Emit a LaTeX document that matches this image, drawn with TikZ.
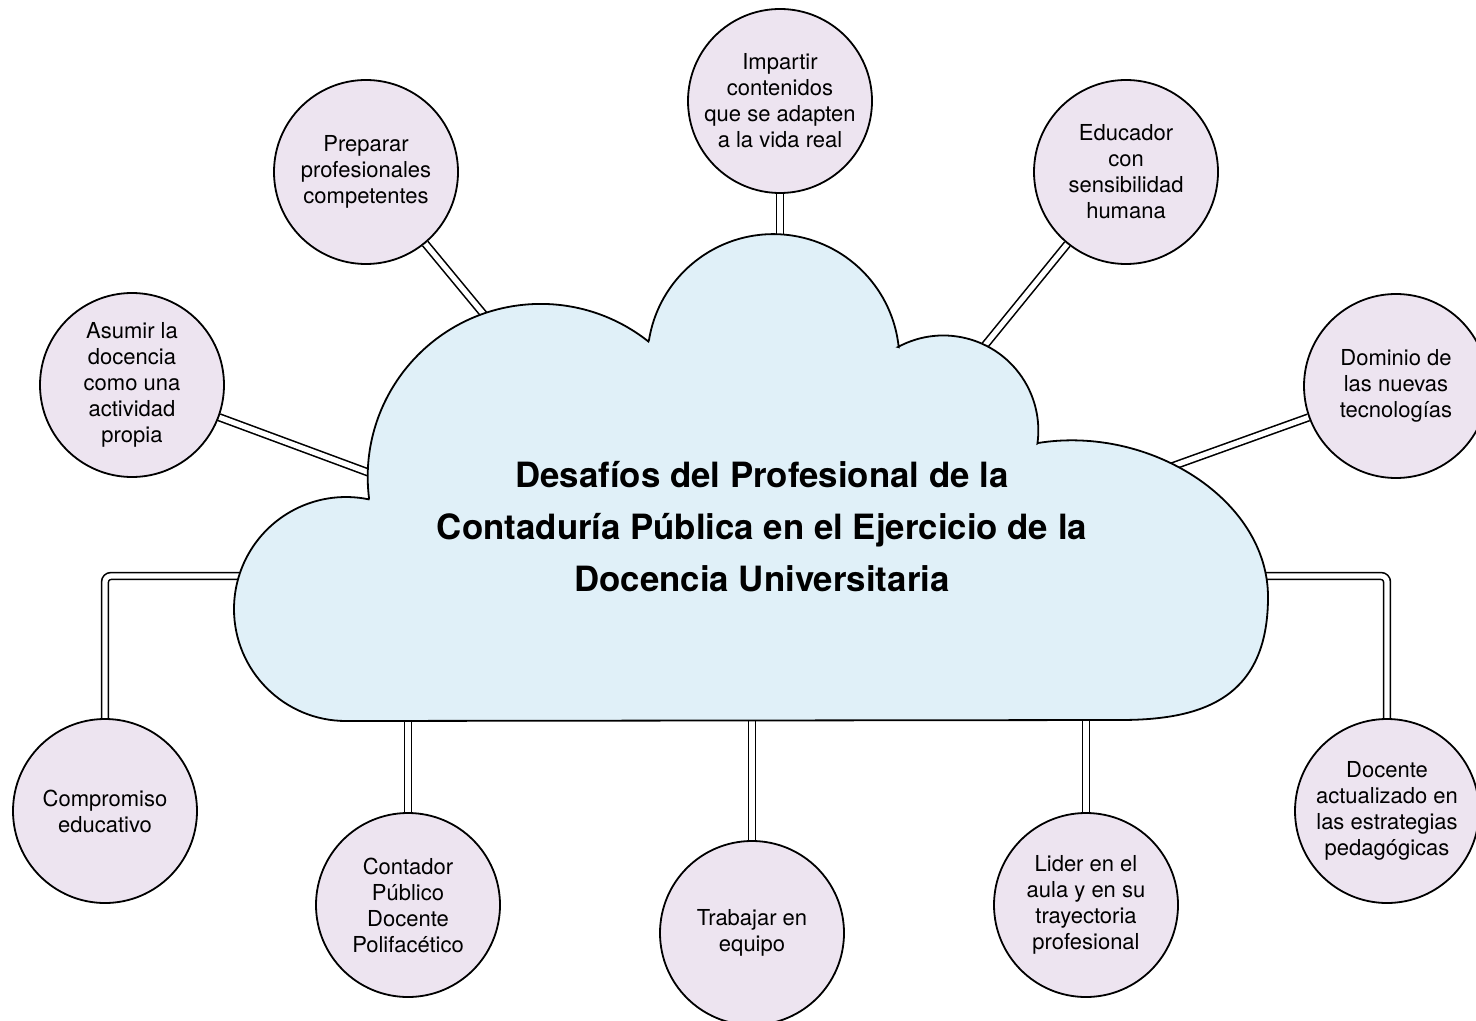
\documentclass[tikz,border=0pt]{standalone}
\usepackage{fontspec}
\setmainfont{TeX Gyre Heros}
\usepackage{tikz}
\usetikzlibrary{positioning,backgrounds}
\definecolor{cloudblue}{HTML}{E0F0F8}
\definecolor{lilac}{HTML}{EDE4F0}
\tikzset{
  idea/.style={
    circle,
    draw,
    line width=0.9pt,
    fill=lilac,
    minimum size=92pt,
    inner sep=0pt,
    align=center,
    font=\fontsize{11}{13}\selectfont
  },
  cloudshape/.style={
    draw,
    line width=0.9pt,
    fill=cloudblue
  },
  title/.style={
    align=center,
    font=\fontsize{17.4}{26}\selectfont\bfseries
  },
  link/.style={
    draw,
    line width=0.8pt,
    double=white,
    double distance=2.6pt
  }
}

\begin{document}
\begin{tikzpicture}[x=0.5pt,y=-0.5pt]
        \useasboundingbox (0,0) rectangle (1476,1021);
        \draw[cloudshape] (346,721) arc[start angle=90, end angle=281.7, radius=112]
          -- (369,498) arc[start angle=173, end angle=308.5, radius=173]
          -- (649,340) arc[start angle=189.2, end angle=354.1, radius=126]
          -- (898,347) arc[start angle=241.5, end angle=367.8, radius=95]
          -- (1038,443) .. controls (1150,425) and (1268,500) .. (1268,597)
          .. controls (1268,700) and (1200,720) .. (1120,720)
          -- cycle;
        \node[title] (Title) at (762,527) {Desafíos del Profesional de la\\Contaduría Pública en el Ejercicio de la\\Docencia Universitaria};
        \node[idea] (Prep) at (366,172) {Preparar\\profesionales\\competentes};
        \node[idea] (Imp) at (780,101) {Impartir\\contenidos\\que se adapten\\a la vida real};
        \node[idea] (Educ) at (1126,172) {Educador\\con\\sensibilidad\\humana};
        \node[idea] (Dom) at (1396,386) {Dominio de\\las nuevas\\tecnologías};
        \node[idea] (Asum) at (132,385) {Asumir la\\docencia\\como una\\actividad\\propia};
        \node[idea] (Comp) at (105,811) {Compromiso\\educativo};
        \node[idea] (Cont) at (408,905) {Contador\\Público\\Docente\\Polifacético};
        \node[idea] (Trab) at (752,933) {Trabajar en\\equipo};
        \node[idea] (Lid) at (1086,905) {Lider en el\\aula y en su\\trayectoria\\profesional};
        \node[idea] (Act) at (1387,811) {Docente\\actualizado en\\las estrategias\\pedagógicas};
        \coordinate (PrepIn) at (505,340);
        \coordinate (ImpIn) at (780,270);
        \coordinate (EducIn) at (964,371);
        \coordinate (DomIn) at (1162,470);
        \coordinate (AsumIn) at (394,482);
        \coordinate (CompIn) at (270,576);
        \coordinate (ContIn) at (408,690);
        \coordinate (TrabIn) at (752,690);
        \coordinate (LidIn) at (1086,690);
        \coordinate (ActIn) at (1240,576);
        \begin{scope}[on background layer]
          \draw[link] (Prep) -- (PrepIn);
          \draw[link] (Imp) -- (ImpIn);
          \draw[link] (Educ) -- (EducIn);
          \draw[link] (Dom) -- (DomIn);
          \draw[link] (Asum) -- (AsumIn);
          \draw[link, rounded corners=3pt] (Comp) |- (CompIn);
          \draw[link, rounded corners=3pt] (Act) |- (ActIn);
          \draw[link] (Cont) -- (ContIn);
          \draw[link] (Trab) -- (TrabIn);
          \draw[link] (Lid) -- (LidIn);
        \end{scope}
      \end{tikzpicture}
\end{document}
